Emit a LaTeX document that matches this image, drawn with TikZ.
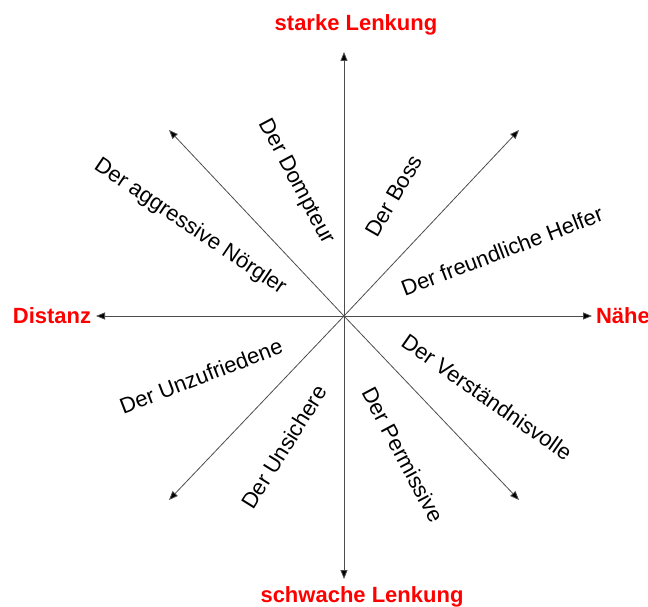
\documentclass[tikz,border=0pt]{standalone}
\usepackage{fontspec}
\setmainfont{Liberation Sans}
\usetikzlibrary{arrows.meta}
\definecolor{axisred}{RGB}{255,0,0}
\begin{document}
\begin{tikzpicture}[x=1pt,y=-1pt,
  axis/.style={draw=black!70,line width=0.8pt,-{Triangle[length=9pt,width=7pt,fill=black]}},
  pole/.style={font=\fontsize{22}{25}\selectfont\bfseries,text=axisred,inner sep=0pt},
  typ/.style={font=\fontsize{22}{25}\selectfont,inner sep=0pt}]
\useasboundingbox (0,0) rectangle (648,607);
\coordinate (c) at (344,316);
\coordinate (n) at (344,52);
\coordinate (s) at (344,579);
\coordinate (w) at (96,316);
\coordinate (e) at (592,316);
\coordinate (nw) at (169,130);
\coordinate (ne) at (519,130);
\coordinate (sw) at (169,500);
\coordinate (se) at (519,500);
\foreach \t in {n,s,w,e,nw,ne,sw,se} \draw[axis] (c) -- (\t);
\node[pole] (top) at (356,25) {starke Lenkung};
\node[pole] (bot) at (362,597) {schwache Lenkung};
\node[pole] (dist) at (52,316) {Distanz};
\node[pole] (nah) at (623,316) {Nähe};
\node[typ,rotate=-34] (agg) at (190,227) {Der aggressive Nörgler};
\node[typ,rotate=-62] (dom) at (296,182) {Der Dompteur};
\node[typ,rotate=60] (boss) at (394,196) {Der Boss};
\node[typ,rotate=21] (helf) at (502,251) {Der freundliche Helfer};
\node[typ,rotate=21] (unz) at (201,376) {Der Unzufriedene};
\node[typ,rotate=58] (uns) at (284,447) {Der Unsichere};
\node[typ,rotate=-62] (perm) at (403,455) {Der Permissive};
\node[typ,rotate=-35] (vers) at (487,397) {Der Verständnisvolle};
\end{tikzpicture}
\end{document}
